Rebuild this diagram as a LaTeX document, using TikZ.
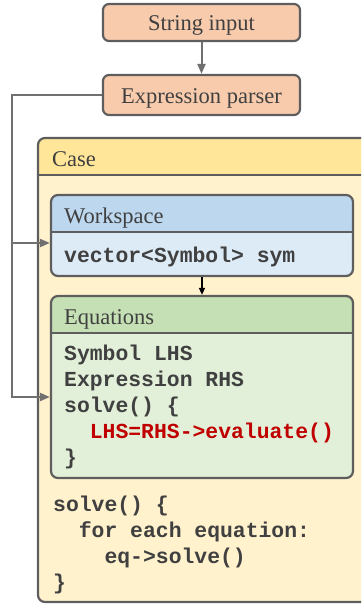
\documentclass[tikz,border=0pt]{standalone}
\usepackage{fontspec}
\setmainfont{Liberation Serif}
\setmonofont{Liberation Mono}
\usetikzlibrary{positioning,arrows.meta}
\definecolor{peach}{HTML}{F8CBAD}
\definecolor{caseHead}{HTML}{FFE699}
\definecolor{caseBody}{HTML}{FFF2CC}
\definecolor{wsHead}{HTML}{BDD7EE}
\definecolor{wsBody}{HTML}{DDEBF7}
\definecolor{eqHead}{HTML}{C5E0B4}
\definecolor{eqBody}{HTML}{E2F0D9}
\definecolor{edge}{HTML}{5E5E5E}
\definecolor{wire}{HTML}{707070}
\definecolor{ink}{HTML}{404040}
\definecolor{codered}{HTML}{C00000}

\tikzset{
  stage/.style={draw=edge, line width=2.2pt, fill=peach, rounded corners=6pt,
    minimum width=197pt, minimum height=37pt, inner sep=0pt, text=ink,
    text height=19pt, text depth=2pt,
    font=\fontsize{22.5}{27}\selectfont},
  panel/.style 2 args={draw=edge, line width=2.2pt, rounded corners=7pt, inner sep=0pt, fill=#2,
    path picture={
      \fill[#1, sharp corners] (path picture bounding box.north west) rectangle ([yshift=-37pt]path picture bounding box.north east);
      \draw[edge, line width=2.2pt, sharp corners] ([yshift=-37pt]path picture bounding box.north west) -- ([yshift=-37pt]path picture bounding box.north east);
    }},
  title/.style={anchor=base west, inner sep=0pt, text=ink, font=\fontsize{22.5}{27}\selectfont},
  % multi-line listings are placed by the baseline of their last line
  listing/.style={anchor=base west, inner sep=0pt, align=left, text=ink,
    font=\fontsize{21.4}{25.8}\selectfont\ttfamily\bfseries},
  flow/.style={draw=wire, line width=2pt, -{Triangle[length=10pt,width=8pt]}},
}

\begin{document}
\begin{tikzpicture}[x=1pt,y=-1pt]
\useasboundingbox (0,0) rectangle (361,604);
\clip (0,0) rectangle (361,604);
% input stages
\node[stage] (str) at (201.5,22.5) {String input};
\node[stage, minimum height=40pt] (parser) at (201.5,95) {Expression parser};
% case with its two parts
\node[panel={caseHead}{caseBody}, minimum width=342pt, minimum height=464pt] (case) at (209,370) {};
\node[panel={wsHead}{wsBody}, minimum width=302pt, minimum height=81pt] (ws) at (202,235.5) {};
\node[panel={eqHead}{eqBody}, minimum width=302pt, minimum height=182pt] (eq) at (202,387) {};
\node[title] (casetitle) at (52,166) {Case};
\node[title] (wstitle) at (64,223) {Workspace};
\node[title] (eqtitle) at (64,324) {Equations};
\node[listing] (wscode) at (64,262) {vector<Symbol> sym};
\node[listing] (eqcode) at (64,464) {Symbol LHS\\Expression RHS\\solve() \{\\\phantom{xx}\textcolor{codered}{LHS=RHS->evaluate()}\\\}};
\node[listing] (casecode) at (53,589) {solve() \{\\\phantom{xx}for each equation:\\\phantom{xxxx}eq->solve()\\\}};
% connectors
\coordinate (bus) at (12,0);
\coordinate (wsin) at (ws.west |- 0,243);
\coordinate (eqin) at (eq.west |- 0,397);
\draw[flow] (str) -- (parser);
\draw[flow] (parser.west) -| (bus |- eqin) -- (eqin);
\draw[flow] (bus |- wsin) -- (wsin);
\draw[black, line width=1.5pt, -{Triangle[length=7pt,width=6pt]}] (ws) -- (eq);
\end{tikzpicture}
\end{document}
